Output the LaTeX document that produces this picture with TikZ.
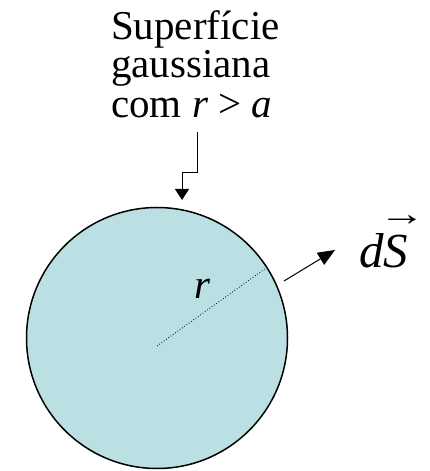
\documentclass[tikz,border=0pt]{standalone}
\usepackage{fontspec}
\setmainfont{Liberation Serif}
\usetikzlibrary{arrows.meta}
\definecolor{sphere}{HTML}{BBE0E3}
\tikzset{
  lbl/.style={inner sep=0pt, anchor=base west, font=\fontsize{41}{41}\selectfont},
  conn/.style={line width=1pt, -{Triangle[length=11pt,width=14pt]}},
}
\begin{document}
\begin{tikzpicture}[x=1pt,y=1pt]
\useasboundingbox (0,0) rectangle (429,471);
% sphere
\node[circle, draw, line width=1.5pt, fill=sphere, minimum size=261pt, inner sep=0pt] (sph) at (157,133) {};
% text
\node[lbl] (t1) at (111,431) {Superfície};
\node[lbl] (t2) at (111,393) {gaussiana};
\node[lbl] (t3) at (111,353) {com \textit{r} > \textit{a}};
\coordinate (c0) at (197,339);
\coordinate (c1) at (197,298);
\coordinate (c2) at (182,298);
\draw[conn] (c0) -- (c1) -- (c2) -- (182,271);
% radius
\coordinate (o) at (157,125);
\coordinate (p) at (266,203);
\draw[dotted, line width=0.8pt] (o) -- (p);
\node[inner sep=0pt, font=\fontsize{41}{41}\selectfont\itshape] (r) at (202,182) {r};
% normal vector
\coordinate (a0) at (284,190);
\coordinate (a1) at (335,221);
\draw[line width=1pt, -{Triangle[length=17pt,width=14pt]}] (a0) -- (a1);
\node[inner sep=0pt, anchor=base west, font=\fontsize{49}{49}\selectfont\itshape] (ds) at (359,203)
  {d\ooalign{S\cr\hidewidth\kern0.25em\raisebox{0.86em}{\scalebox{0.95}[0.7]{\upshape →}}\hidewidth}};
\end{tikzpicture}
\end{document}
